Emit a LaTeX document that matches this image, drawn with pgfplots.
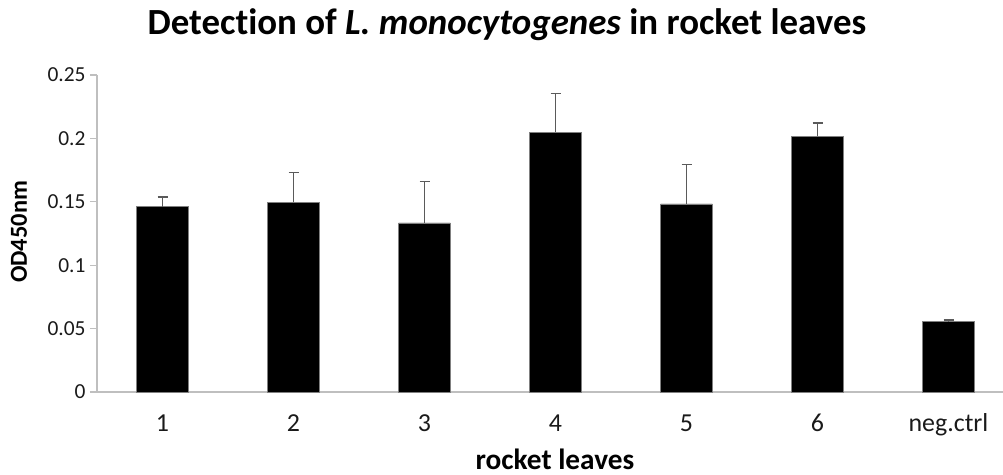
\documentclass[border=0pt]{standalone}
\usepackage{fontspec}
\setmainfont{Carlito}[Ligatures=NoCommon]
\usepackage{pgfplots}
\pgfplotsset{compat=1.18}
\definecolor{axgray}{HTML}{BFBFBF}
\definecolor{errgray}{HTML}{5A5A5A}
\definecolor{txt}{HTML}{1A1A1A}
\begin{document}
\begin{tikzpicture}
\useasboundingbox (0,0) rectangle (1003bp,475bp);
\begin{axis}[
  at={(97bp,83bp)}, anchor=south west,
  scale only axis, width=906bp, height=317bp,
  xmin=-0.5, xmax=6.416, ymin=0, ymax=0.25,
  axis lines=left, axis line style={draw=axgray, line width=1.2bp, -},
  xtick={0,1,2,3,4,5,6},
  xticklabels={1,2,3,4,5,6,neg.ctrl},
  xtick style={draw=none},
  xticklabel style={font=\fontsize{26}{30}\selectfont, text=txt, anchor=base, yshift=-32bp},
  ytick={0,0.05,0.1,0.15,0.2,0.25},
  yticklabels={0,0.05,0.1,0.15,0.2,0.25},
  ytick style={draw=axgray, line width=1.2bp},
  tick align=outside, major tick length=7bp,
  yticklabel style={font=\fontsize{21.5}{25}\selectfont, text=txt, xshift=-1bp},
  title={\textbf{Detection of \textit{L. monocytogenes} in rocket leaves}},
  title style={font=\fontsize{37}{42}\selectfont, at={(0.4525,1.108)}, anchor=base, inner sep=0pt},
  xlabel={\textbf{rocket leaves}},
  xlabel style={font=\fontsize{29.4}{33}\selectfont, at={(0.5055,-0.243)}, anchor=base, inner sep=0pt},
  ylabel={\textbf{OD450nm}},
  ylabel style={font=\fontsize{24.5}{28}\selectfont, at={(-0.0861,0.505)}, anchor=center, rotate=0, inner sep=0pt},
  clip=false,
]
\addplot[ybar, bar width=0.395, fill=black, draw=gray, line width=0.6bp,
  error bars/.cd, y dir=plus, y explicit,
  error bar style={errgray, line width=1.7bp},
  error mark options={errgray, line width=1.7bp, mark size=5bp, rotate=90}]
  coordinates {
  (0,0.1461) +- (0,0.0077)
  (1,0.1496) +- (0,0.0234)
  (2,0.1333) +- (0,0.0328)
  (3,0.2050) +- (0,0.0303)
  (4,0.1483) +- (0,0.0310)
  (5,0.2016) +- (0,0.0103)
  (6,0.0555) +- (0,0.0015)
  };
\end{axis}
\end{tikzpicture}
\end{document}
